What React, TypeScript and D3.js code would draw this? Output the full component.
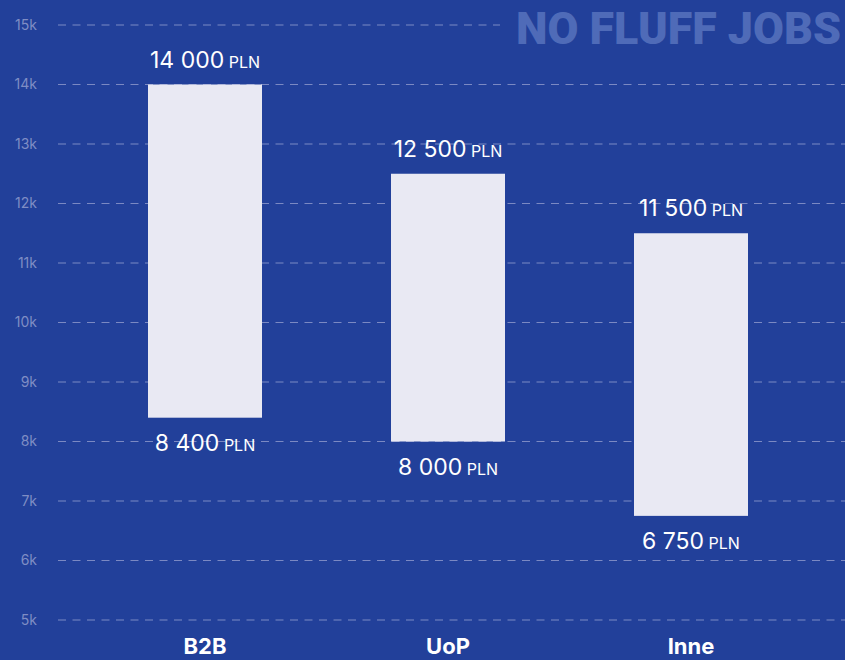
import React from "react";
import * as d3 from "d3";

const categories = ["B2B", "UoP", "Inne"];
const minValues = [8400, 8000, 6750];
const maxValues = [14000, 12500, 11500];
const minLabels = ["8 400", "8 000", "6 750"];
const maxLabels = ["14 000", "12 500", "11 500"];
const yTicks = [5000, 6000, 7000, 8000, 9000, 10000, 11000, 12000, 13000, 14000, 15000];
const yTickLabels = ["5k", "6k", "7k", "8k", "9k", "10k", "11k", "12k", "13k", "14k", "15k"];
const currency = "PLN";

const W = 845;
const H = 660;

export default function App() {
  const y = d3.scaleLinear().domain([5000, 15000]).range([620, 25]);
  const x = d3.scalePoint<string>().domain(categories).range([205, 691]);
  const barW = 114;
  const font = "Inter, 'Open Sans', sans-serif";

  return (
    <svg
      width={W}
      height={H}
      style={{ position: "absolute", left: 0, top: 0, display: "block" }}
    >
      <rect x={0} y={0} width={W} height={H} fill="#22409a" />
      {yTicks.map((t, i) => (
        <g key={t}>
          <line
            x1={58}
            x2={t === 15000 ? 500 : W}
            y1={y(t)}
            y2={y(t)}
            stroke="#7b89c3"
            strokeWidth={1.2}
            strokeDasharray="8 6.5"
          />
          <text
            x={37}
            y={y(t)}
            dy="0.35em"
            textAnchor="end"
            fill="#7f8dc4"
            fontSize={14}
            fontFamily={font}
          >
            {yTickLabels[i]}
          </text>
        </g>
      ))}
      <text
        x={516}
        y={44}
        fill="#4f6bb8"
        fontSize={44}
        fontWeight={900}
        fontFamily="Roboto, 'DejaVu Sans', sans-serif"
        textLength={325}
        lengthAdjust="spacingAndGlyphs"
      >
        NO FLUFF JOBS
      </text>
      {categories.map((c, i) => {
        const cx = x(c) as number;
        return (
          <g key={c}>
            <rect
              x={cx - barW / 2}
              y={y(maxValues[i])}
              width={barW}
              height={y(minValues[i]) - y(maxValues[i])}
              fill="#e9e9f3"
            />
            <text
              x={cx}
              y={y(maxValues[i]) - 17}
              textAnchor="middle"
              fill="#ffffff"
              fontFamily={font}
            >
              <tspan fontSize={23}>{maxLabels[i]}</tspan>
              <tspan fontSize={16}> {currency}</tspan>
            </text>
            <text
              x={cx}
              y={y(minValues[i]) + 33}
              textAnchor="middle"
              fill="#ffffff"
              fontFamily={font}
            >
              <tspan fontSize={23}>{minLabels[i]}</tspan>
              <tspan fontSize={16}> {currency}</tspan>
            </text>
            <text
              x={cx}
              y={654}
              textAnchor="middle"
              fill="#ffffff"
              fontFamily={font}
              fontWeight={700}
              fontSize={22}
            >
              {c}
            </text>
          </g>
        );
      })}
    </svg>
  );
}
